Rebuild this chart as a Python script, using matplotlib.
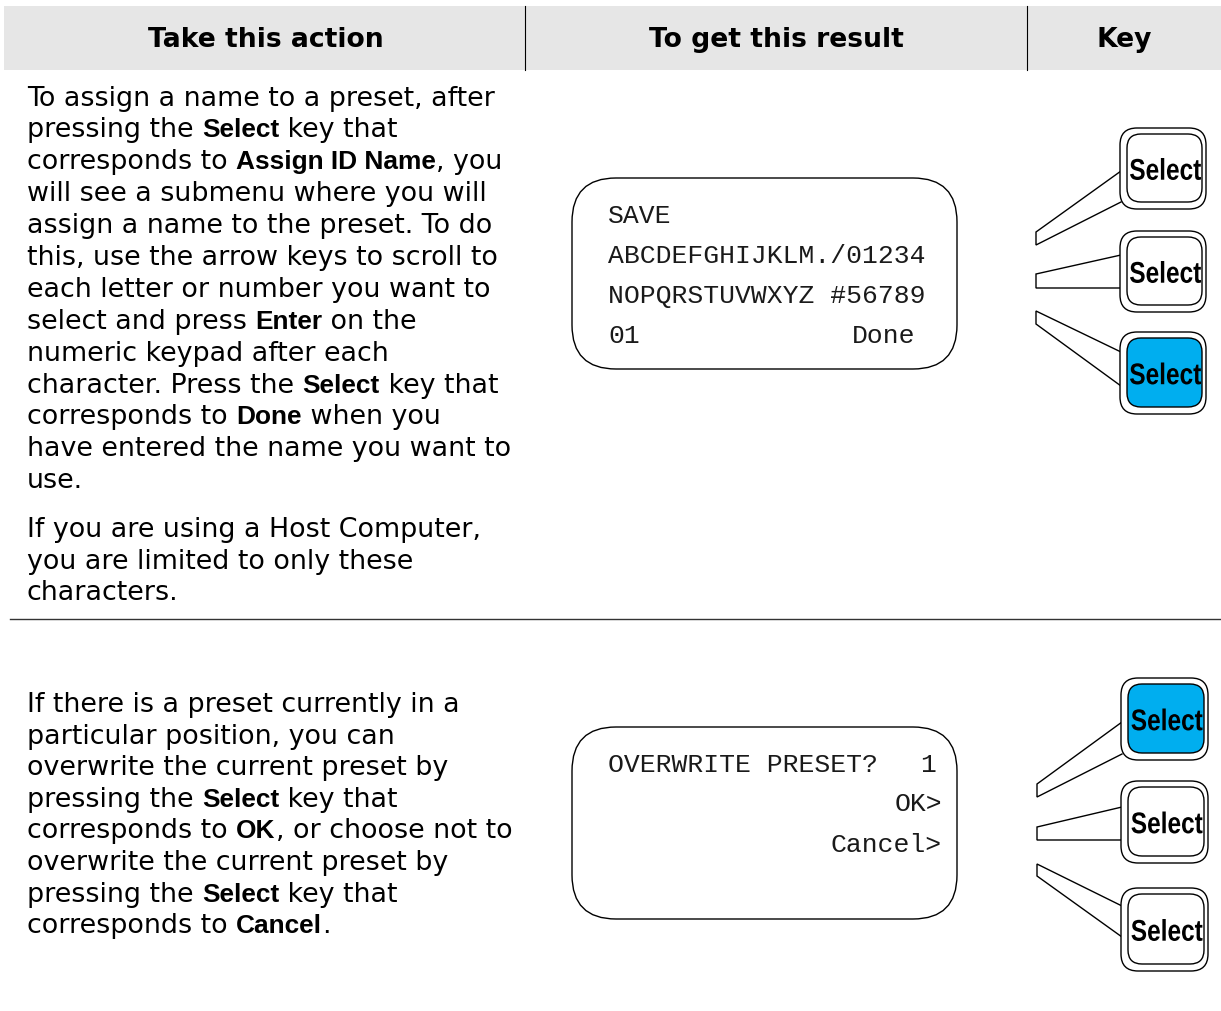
import matplotlib
matplotlib.use("Agg")
import matplotlib.pyplot as plt
from matplotlib.patches import Rectangle, FancyBboxPatch, PathPatch
from matplotlib.textpath import TextPath
from matplotlib.font_manager import FontProperties
from matplotlib.transforms import Affine2D

# ---------------- content ----------------
headers = ["Take this action", "To get this result", "Key"]

# ** marks bold runs
row1_para1 = [
    "To assign a name to a preset, after",
    "pressing the **Select** key that",
    "corresponds to **Assign ID Name**, you",
    "will see a submenu where you will",
    "assign a name to the preset. To do",
    "this, use the arrow keys to scroll to",
    "each letter or number you want to",
    "select and press **Enter** on the",
    "numeric keypad after each",
    "character. Press the **Select** key that",
    "corresponds to **Done** when you",
    "have entered the name you want to",
    "use.",
]
row1_para2 = [
    "If you are using a Host Computer,",
    "you are limited to only these",
    "characters.",
]
row2_para = [
    "If there is a preset currently in a",
    "particular position, you can",
    "overwrite the current preset by",
    "pressing the **Select** key that",
    "corresponds to **OK**, or choose not to",
    "overwrite the current preset by",
    "pressing the **Select** key that",
    "corresponds to **Cancel**.",
]

lcd1_lines = ["SAVE", "ABCDEFGHIJKLM./01234", "NOPQRSTUVWXYZ #56789", "01"]
lcd1_right = "Done"
lcd2_title = "OVERWRITE PRESET?"
lcd2_num = "1"
lcd2_right = ["OK>", "Cancel>"]

key_label = "Select"
row1_active = [False, False, True]
row2_active = [True, False, False]

# ---------------- figure ----------------
W, H = 1221, 1012
fig = plt.figure(figsize=(W / 100, H / 100), dpi=100)
ax = fig.add_axes([0, 0, 1, 1])
ax.set_xlim(0, W)
ax.set_ylim(H, 0)
ax.axis("off")
renderer = fig.canvas.get_renderer()

BODY = FontProperties(family="DejaVu Sans", size=19.4)
BOLD = FontProperties(family="Liberation Sans", weight="bold", size=18.9)
HEAD = FontProperties(family="DejaVu Sans", weight="bold", size=19.2)
MONO = FontProperties(family="Liberation Mono", size=19)
LW = 1.0
BLUE = "#00aeef"


def advance(s, prop):
    # width of s including any trailing space, in pixels
    w1, _, _ = renderer.get_text_width_height_descent(s + "|", prop, ismath=False)
    w2, _, _ = renderer.get_text_width_height_descent("|", prop, ismath=False)
    return w1 - w2


def rich_line(x, y, line):
    parts = line.split("**")
    for i, part in enumerate(parts):
        if not part:
            continue
        prop = BOLD if i % 2 else BODY
        ax.text(x, y, part, fontproperties=prop, va="baseline", ha="left", color="black")
        x += advance(part, prop)


def paragraph(x, y0, lines, step):
    for i, line in enumerate(lines):
        rich_line(x, y0 + i * step, line)


# header band
ax.add_patch(Rectangle((4, 7), W - 4, 64, facecolor="#e6e6e6", edgecolor="none"))
for xs in (525, 1027):
    ax.plot([xs, xs], [7, 71], color="black", lw=0.8)
for cx, label in zip([266, 776, 1124], headers):
    ax.text(cx, 47, label, fontproperties=HEAD, ha="center", va="baseline")

# row separator
ax.plot([10, W], [620, 620], color="#333333", lw=1.0)

# action text
paragraph(27, 105.5, row1_para1, 31.9)
paragraph(27, 537, row1_para2, 31.6)
paragraph(27, 712, row2_para, 31.6)


# LCD screens
def lcd(y0, y1):
    ax.add_patch(FancyBboxPatch((572, y0), 385, y1 - y0,
                                boxstyle="round,pad=0,rounding_size=44",
                                facecolor="white", edgecolor="black", lw=LW))


lcd(179, 370)
for i, s in enumerate(lcd1_lines):
    ax.text(608, 223 + i * 40, s, fontproperties=MONO, va="baseline", color="#1a1a1a")
ax.text(852, 343, lcd1_right, fontproperties=MONO, va="baseline", color="#1a1a1a")

lcd(728, 920)
ax.text(608, 772, lcd2_title, fontproperties=MONO, va="baseline", color="#1a1a1a")
ax.text(928, 772, lcd2_num, fontproperties=MONO, va="baseline", ha="center", color="#1a1a1a")
for i, s in enumerate(lcd2_right):
    ax.text(942, 811 + i * 41, s, fontproperties=MONO, va="baseline", ha="right", color="#1a1a1a")

# select keys
sel_path = TextPath((0, 0), key_label, size=100,
                    prop=FontProperties(family="Liberation Sans", weight="bold"))
ext = sel_path.get_extents()


def key(x0, y0, x1, y1, active):
    ax.add_patch(FancyBboxPatch((x0, y0), x1 - x0, y1 - y0,
                                boxstyle="round,pad=0,rounding_size=17",
                                facecolor="white", edgecolor="black", lw=LW, zorder=3))
    ix0, iy0, ix1, iy1 = x0 + 7, y0 + 6, x1 - 4, y1 - 7
    ax.add_patch(FancyBboxPatch((ix0, iy0), ix1 - ix0, iy1 - iy0,
                                boxstyle="round,pad=0,rounding_size=14",
                                facecolor=BLUE if active else "white",
                                edgecolor="black", lw=LW, zorder=4))
    cx, cy = (ix0 + ix1) / 2 + 1, (y0 + y1) / 2 + 0.5
    tw, th = 71, 22
    tr = (Affine2D().translate(-ext.x0, -ext.y0)
          .scale(tw / ext.width, -th / ext.height)
          .translate(cx - tw / 2, cy + th / 2))
    ax.add_patch(PathPatch(sel_path.transformed(tr), facecolor="black",
                           edgecolor="none", zorder=5))


def wedge(pts):
    xs, ys = zip(*pts)
    ax.plot(xs, ys, color="black", lw=LW, zorder=2, solid_joinstyle="miter")


# row 1 keys
wedge([(1121, 172), (1036, 233), (1036, 246), (1121, 203)])
wedge([(1121, 256), (1036, 275), (1036, 289), (1121, 289)])
wedge([(1121, 353), (1036, 312), (1036, 325), (1121, 387)])
for (a, b), act in zip([(129, 210), (232, 313), (333, 415)], row1_active):
    key(1120, a, 1206, b, act)

# row 2 keys
wedge([(1122, 723), (1037, 785), (1037, 798), (1122, 755)])
wedge([(1122, 808), (1037, 828), (1037, 841), (1122, 841)])
wedge([(1122, 907), (1037, 865), (1037, 877), (1122, 938)])
for (a, b), act in zip([(679, 761), (782, 864), (889, 972)], row2_active):
    key(1121, a, 1208, b, act)

fig.savefig("out.png", dpi=100)
